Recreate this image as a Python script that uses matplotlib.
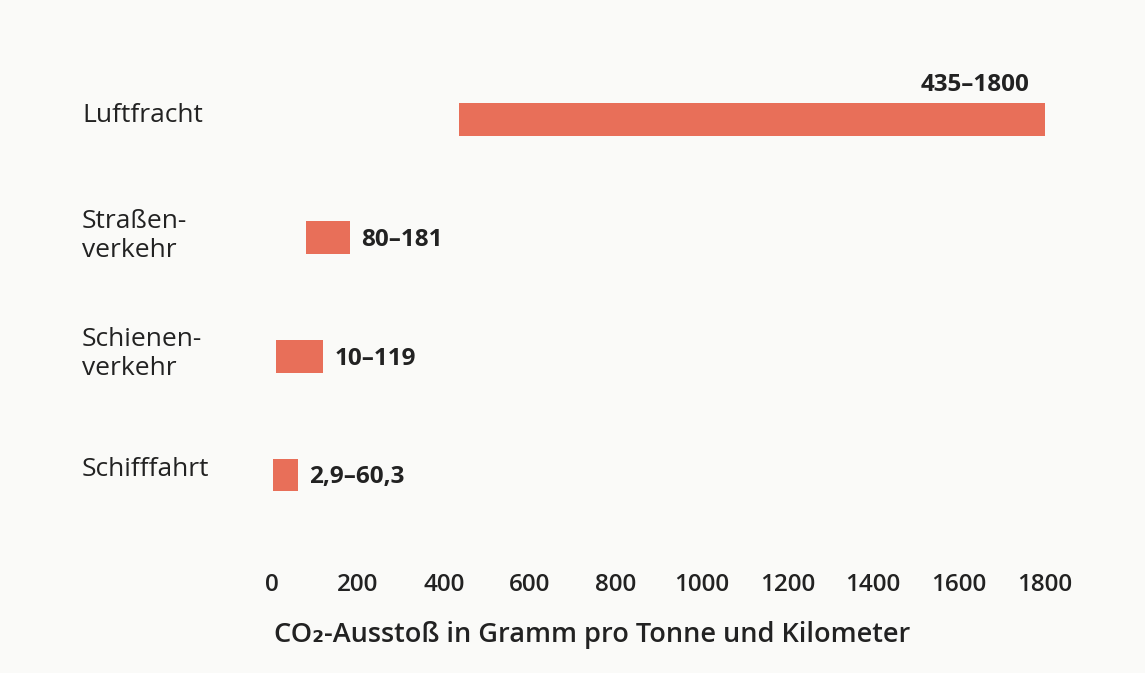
import matplotlib.pyplot as plt

# data
modes = ['Luftfracht', 'Straßen-\nverkehr', 'Schienen-\nverkehr', 'Schifffahrt']
low = [435, 80, 10, 2.9]
high = [1800, 181, 119, 60.3]
range_labels = ['435–1800', '80–181', '10–119', '2,9–60,3']
xticks = [0, 200, 400, 600, 800, 1000, 1200, 1400, 1600, 1800]

bar_color = '#e86f59'
bg = '#fafaf8'
txt = '#222222'
plt.rcParams['font.family'] = ['Open Sans', 'DejaVu Sans']

fig = plt.figure(figsize=(11.45, 6.73), dpi=100, facecolor=bg)
W, H = 1145, 673
# x=0 at px 272, x=1800 at px 1043 ; axes from y px 60 to 540
ax = fig.add_axes([272 / W, (H - 540) / H, 773 / W, 480 / H])
ax.set_facecolor(bg)
ax.set_xlim(0, 1800)
ax.set_ylim(-0.55, 3.5)

ypos = [3, 2, 1, 0]
for i in range(len(modes)):
    ax.barh(ypos[i], high[i] - low[i], left=low[i], height=0.275,
            color=bar_color, edgecolor='none')
    if i == 0:
        ax.text(high[i] - 35, ypos[i] + 0.185, range_labels[i], ha='right', va='bottom',
                fontsize=17.5, fontweight='bold', color=txt)
    else:
        ax.text(high[i] + 26, ypos[i] - 0.02, range_labels[i], ha='left', va='center',
                fontsize=17.5, fontweight='bold', color=txt)

# category labels, left aligned at px 82
label_y = [116, 236, 354, 469]
for name, py in zip(modes, label_y):
    fig.text(82 / W, 1 - py / H, name, ha='left', va='center', fontsize=19,
             color=txt, linespacing=1.2)

ax.set_xticks(xticks)
ax.set_xticklabels([str(t) for t in xticks], fontsize=17.5, fontweight='semibold',
                   color=txt)
ax.tick_params(axis='x', length=0, pad=24)
ax.set_yticks([])
for s in ax.spines.values():
    s.set_visible(False)

fig.text(592 / W, 1 - 635 / H, 'CO₂-Ausstoß in Gramm pro Tonne und Kilometer',
         ha='center', va='center', fontsize=19.5, fontweight='semibold', color=txt)

fig.savefig('out.png', dpi=100, facecolor=bg)
